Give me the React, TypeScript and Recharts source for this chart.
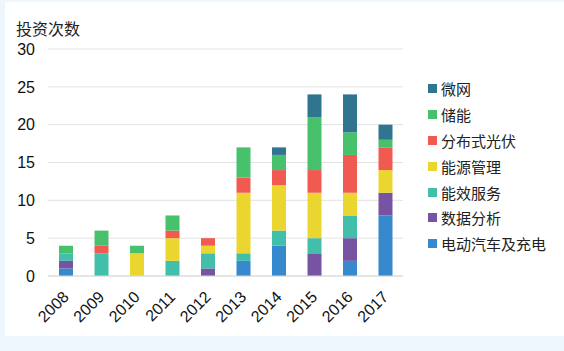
import { BarChart, Bar, XAxis, YAxis, CartesianGrid } from 'recharts'

const years = ['2008', '2009', '2010', '2011', '2012', '2013', '2014', '2015', '2016', '2017']

// stacked bottom -> top
const ev = [1, 0, 0, 0, 0, 2, 4, 0, 2, 8]
const dataAnalysis = [1, 0, 0, 0, 1, 0, 0, 3, 3, 3]
const efficiency = [1, 3, 0, 2, 2, 1, 2, 2, 3, 0]
const energyMgmt = [0, 0, 3, 3, 1, 8, 6, 6, 3, 3]
const pv = [0, 1, 0, 1, 1, 2, 2, 3, 5, 3]
const storage = [1, 2, 1, 2, 0, 4, 2, 7, 3, 1]
const microgrid = [0, 0, 0, 0, 0, 0, 1, 3, 5, 2]

const yTicks = [0, 5, 10, 15, 20, 25, 30]

const SERIES = [
  { key: 'ev', name: '电动汽车及充电', color: '#3589cc', values: ev },
  { key: 'data', name: '数据分析', color: '#7753a4', values: dataAnalysis },
  { key: 'eff', name: '能效服务', color: '#42bfaa', values: efficiency },
  { key: 'mgmt', name: '能源管理', color: '#ebd630', values: energyMgmt },
  { key: 'pv', name: '分布式光伏', color: '#f05a50', values: pv },
  { key: 'storage', name: '储能', color: '#47c16c', values: storage },
  { key: 'micro', name: '微网', color: '#2f7590', values: microgrid },
]

const rows = years.map((year, i) => {
  const row: Record<string, any> = { year }
  SERIES.forEach((s) => { row[s.key] = s.values[i] })
  return row
})

const FONT = "'Liberation Sans', Arial, 'Noto Sans CJK SC', sans-serif"

const XTick = ({ x, y, payload }: any) => (
  <g transform={`translate(${x},${y + 10})`}>
    <text
      transform="rotate(-45)"
      textAnchor="end"
      dy="0.35em"
      fontSize={16}
      fill="#111"
      fontFamily={FONT}
    >
      {payload.value}
    </text>
  </g>
)

export default function App() {
  return (
    <div style={{ position: 'fixed', left: 0, top: 0, width: 564, height: 351, background: '#eef6fe' }}>
      <div style={{ position: 'absolute', left: 5, top: 2, width: 559, height: 334, background: '#fff' }}>
        <div style={{ position: 'absolute', left: 11, top: 14, fontSize: 16, fontFamily: FONT, color: '#222' }}>
          投资次数
        </div>
        <div style={{ position: 'absolute', left: 423, top: 74, fontFamily: FONT, fontSize: 15, color: '#222' }}>
          {[...SERIES].reverse().map((s) => (
            <div key={s.key} style={{ display: 'flex', alignItems: 'center', height: 25.8 }}>
              <span style={{ width: 9, height: 9, background: s.color, marginRight: 4, display: 'inline-block' }} />
              {s.name}
            </div>
          ))}
        </div>
        <BarChart
          width={559}
          height={334}
          data={rows}
          margin={{ top: 47, right: 161, left: 0, bottom: 0 }}
          barSize={14}
        >
          <CartesianGrid vertical={false} stroke="#e2e2e2" />
          <XAxis
            dataKey="year"
            axisLine={{ stroke: '#d8d8d8' }}
            tickLine={false}
            tick={<XTick />}
            interval={0}
            height={60}
          />
          <YAxis
            width={43}
            domain={[0, 30]}
            ticks={yTicks}
            axisLine={false}
            tickLine={false}
            tickSize={0}
            tickMargin={13}
            tick={{ fontSize: 16, fill: '#111', fontFamily: FONT }}
          />
          {SERIES.map((s) => (
            <Bar
              key={s.key}
              dataKey={s.key}
              name={s.name}
              stackId="a"
              fill={s.color}
              isAnimationActive={false}
            />
          ))}
        </BarChart>
      </div>
    </div>
  )
}
